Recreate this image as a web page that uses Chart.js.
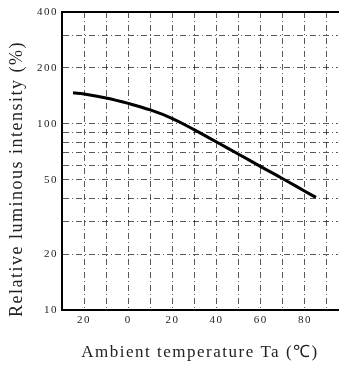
<!DOCTYPE html>
<html>
<head>
<meta charset="utf-8">
<script src="https://cdn.jsdelivr.net/npm/chart.js@4"></script>
<style>
  html, body { margin: 0; padding: 0; background: #fff; }
  #wrap { width: 353px; height: 368px; position: relative; }
</style>
</head>
<body>
<div id="wrap"><canvas id="myChart"></canvas></div>
<script>
'use strict';

// Curve
const temps = [-25, -20, -10, 0, 10, 20, 30, 40, 50, 60, 70, 80, 85];
const intensity = [147, 145, 138, 129, 119, 107, 93, 80, 68.8, 59, 50.8, 43.5, 40.3];

// Axis ticks
const xGridTicks = [-20, -10, 0, 10, 20, 30, 40, 50, 60, 70, 80, 90];
const xTickValues = [-20, 0, 20, 40, 60, 80];
const xTickLabels = ['20', '0', '20', '40', '60', '80'];
const yGridTicks = [10, 20, 30, 40, 50, 60, 70, 80, 90, 100, 200, 300, 400];
const yTickValues = [10, 20, 50, 100, 200, 400];
const yTickLabels = ['10', '20', '50', '100', '200', '400'];

const ctx = document.querySelector('#myChart').getContext('2d');

const serif = 'Liberation Serif';

// scanned print looks stretched sideways, so space the letters a bit
const spacing = {
  id: 'spacing',
  beforeDraw: (chart) => { chart.ctx.letterSpacing = '1.5px'; }
};

const myChart = new Chart(ctx, {
  type: 'line',
  data: {
    datasets: [{
      data: temps.map((t, i) => ({ x: t, y: intensity[i] })),
      borderColor: '#000',
      borderWidth: 3,
      tension: 0.4,
      pointRadius: 0,
      fill: false
    }]
  },
  options: {
    responsive: true,
    maintainAspectRatio: false,
    animation: false,
    layout: { padding: { left: 0, right: 15, top: 12, bottom: 0 } },
    plugins: {
      legend: { display: false },
      tooltip: { enabled: false }
    },
    scales: {
      x: {
        type: 'linear',
        min: -30,
        max: 95,
        afterBuildTicks: (scale) => { scale.ticks = xGridTicks.map(v => ({ value: v })); },
        afterFit: (scale) => { scale.height = 58; },
        grid: { color: 'rgba(0,0,0,0.65)', lineWidth: 1, drawTicks: false },
        border: { display: true, color: '#000', width: 2, dash: [6, 3, 1, 3] },
        ticks: {
          padding: 4,
          maxRotation: 0,
          autoSkip: false,
          color: '#222',
          font: { family: serif, size: 11 },
          callback: (value) => {
            const i = xTickValues.indexOf(value);
            return i >= 0 ? xTickLabels[i] : '';
          }
        },
        title: {
          display: true,
          text: 'Ambient temperature Ta (\u2103)',
          color: '#222',
          font: { family: serif, size: 17 },
          padding: { top: 0, bottom: 5 }
        }
      },
      xTop: {
        type: 'linear',
        position: 'top',
        min: -30,
        max: 95,
        afterFit: (scale) => { scale.height = 0; },
        grid: { drawOnChartArea: false, drawTicks: false },
        border: { display: true, color: '#000', width: 2 },
        ticks: { display: false }
      },
      y: {
        type: 'logarithmic',
        min: 10,
        max: 400,
        afterBuildTicks: (scale) => { scale.ticks = yGridTicks.map(v => ({ value: v })); },
        afterFit: (scale) => { scale.width = 62; },
        grid: { color: 'rgba(0,0,0,0.65)', lineWidth: 1, drawTicks: false },
        border: { display: true, color: '#000', width: 2, dash: [6, 3, 1, 3] },
        ticks: {
          padding: 4,
          autoSkip: false,
          color: '#222',
          font: { family: serif, size: 11 },
          callback: (value) => {
            const i = yTickValues.indexOf(value);
            return i >= 0 ? yTickLabels[i] : '';
          }
        },
        title: {
          display: true,
          text: 'Relative luminous intensity (%)      ',
          color: '#222',
          font: { family: serif, size: 18 },
          padding: { top: 6, bottom: 0 }
        }
      }
    }
  },
  plugins: [spacing]
});
</script>
</body>
</html>
